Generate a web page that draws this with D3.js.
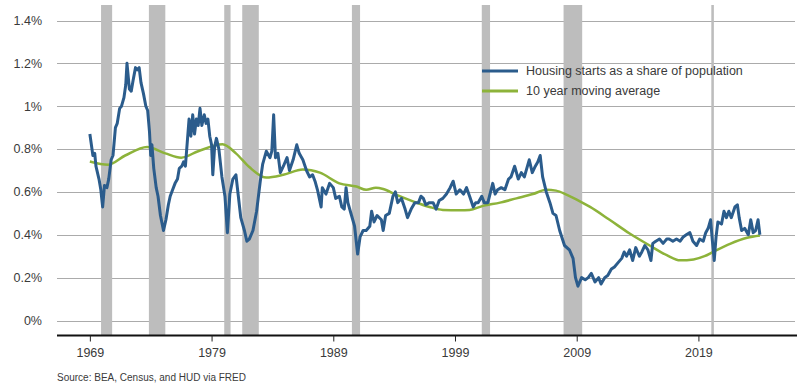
<!DOCTYPE html>
<html>
<head>
<meta charset="utf-8">
<script src="https://cdn.jsdelivr.net/npm/d3@7"></script>
<style>
  body { margin: 0; background: #fff; }
  text { font-family: Arial, "Liberation Sans", sans-serif; fill: #3a3a3a; }
</style>
</head>
<body>
<div id="chart"></div>
<script>
// Y axis ticks (percent of population)
const yTicks = [0, 0.2, 0.4, 0.6, 0.8, 1.0, 1.2, 1.4];
const xTickYears = [1969, 1979, 1989, 1999, 2009, 2019];

// NBER recessions as [start, end] in decimal years
const recessions = [
  [1969.92, 1970.83], [1973.85, 1975.2], [1980.04, 1980.56], [1981.52, 1982.88],
  [1990.53, 1991.2], [2001.2, 2001.88], [2007.92, 2009.45], [2020.06, 2020.27]
];

// Housing starts as a share of population, [year, %]
const startsShare = [
  [1969.00, 0.87], [1969.25, 0.77], [1969.40, 0.78], [1969.50, 0.72], [1969.75, 0.66],
  [1969.90, 0.61], [1970.05, 0.53], [1970.20, 0.63], [1970.40, 0.62], [1970.55, 0.66],
  [1970.75, 0.75], [1970.90, 0.77], [1971.10, 0.90], [1971.25, 0.92], [1971.45, 0.99],
  [1971.60, 1.00], [1971.80, 1.04], [1971.95, 1.10], [1972.05, 1.20], [1972.25, 1.08],
  [1972.40, 1.07], [1972.55, 1.12], [1972.75, 1.18], [1972.90, 1.17], [1973.05, 1.18],
  [1973.20, 1.11], [1973.40, 1.06], [1973.60, 1.00], [1973.75, 0.98], [1973.90, 0.88],
  [1974.00, 0.77], [1974.10, 0.82], [1974.25, 0.71], [1974.45, 0.62], [1974.60, 0.58],
  [1974.80, 0.49], [1975.05, 0.42], [1975.25, 0.47], [1975.45, 0.54], [1975.60, 0.58],
  [1975.80, 0.61], [1976.00, 0.64], [1976.20, 0.66], [1976.35, 0.71], [1976.55, 0.72],
  [1976.70, 0.74], [1976.85, 0.72], [1977.00, 0.83], [1977.15, 0.94], [1977.30, 0.86],
  [1977.45, 0.96], [1977.60, 0.87], [1977.75, 0.94], [1977.90, 0.91], [1978.05, 0.99],
  [1978.20, 0.91], [1978.40, 0.96], [1978.55, 0.92], [1978.70, 0.94], [1978.85, 0.86],
  [1979.00, 0.82], [1979.10, 0.68], [1979.25, 0.81], [1979.40, 0.85], [1979.60, 0.80],
  [1979.85, 0.67], [1980.10, 0.58], [1980.30, 0.41], [1980.50, 0.59], [1980.75, 0.66],
  [1981.00, 0.68], [1981.20, 0.58], [1981.40, 0.48], [1981.70, 0.42], [1981.90, 0.37],
  [1982.10, 0.38], [1982.40, 0.42], [1982.70, 0.51], [1983.00, 0.65], [1983.20, 0.73],
  [1983.50, 0.79], [1983.80, 0.76], [1983.95, 0.79], [1984.10, 0.96], [1984.25, 0.76],
  [1984.45, 0.78], [1984.65, 0.69], [1984.90, 0.72], [1985.20, 0.76], [1985.40, 0.70],
  [1985.70, 0.75], [1986.00, 0.82], [1986.20, 0.78], [1986.50, 0.75], [1986.80, 0.70],
  [1987.05, 0.67], [1987.30, 0.68], [1987.50, 0.65], [1987.70, 0.61], [1988.00, 0.53],
  [1988.10, 0.62], [1988.40, 0.59], [1988.70, 0.64], [1989.00, 0.62], [1989.20, 0.57],
  [1989.50, 0.58], [1989.70, 0.53], [1989.90, 0.52], [1990.05, 0.62], [1990.20, 0.55],
  [1990.50, 0.49], [1990.75, 0.44], [1991.00, 0.31], [1991.20, 0.39], [1991.45, 0.42],
  [1991.70, 0.42], [1992.00, 0.44], [1992.15, 0.51], [1992.35, 0.46], [1992.60, 0.49],
  [1992.95, 0.47], [1993.10, 0.42], [1993.30, 0.49], [1993.60, 0.50], [1993.90, 0.58],
  [1994.10, 0.60], [1994.30, 0.55], [1994.60, 0.57], [1994.90, 0.52], [1995.10, 0.48],
  [1995.40, 0.52], [1995.70, 0.55], [1996.00, 0.55], [1996.20, 0.58], [1996.40, 0.57],
  [1996.60, 0.54], [1996.90, 0.55], [1997.20, 0.55], [1997.45, 0.52], [1997.70, 0.56],
  [1998.00, 0.57], [1998.30, 0.59], [1998.60, 0.62], [1998.85, 0.65], [1999.10, 0.59],
  [1999.40, 0.61], [1999.70, 0.59], [1999.95, 0.62], [2000.20, 0.58], [2000.50, 0.53],
  [2000.70, 0.55], [2000.90, 0.55], [2001.20, 0.58], [2001.40, 0.55], [2001.70, 0.55],
  [2002.10, 0.64], [2002.30, 0.59], [2002.50, 0.61], [2002.80, 0.62], [2003.10, 0.61],
  [2003.40, 0.66], [2003.60, 0.67], [2003.90, 0.72], [2004.20, 0.66], [2004.45, 0.69],
  [2004.70, 0.67], [2005.10, 0.75], [2005.35, 0.69], [2005.60, 0.72], [2005.80, 0.74],
  [2006.00, 0.77], [2006.20, 0.67], [2006.50, 0.60], [2006.80, 0.55], [2007.05, 0.50],
  [2007.30, 0.49], [2007.60, 0.42], [2008.00, 0.35], [2008.40, 0.33], [2008.70, 0.29],
  [2008.90, 0.20], [2009.10, 0.16], [2009.40, 0.20], [2009.70, 0.19], [2009.95, 0.20],
  [2010.20, 0.22], [2010.50, 0.18], [2010.80, 0.20], [2011.00, 0.17], [2011.30, 0.20],
  [2011.55, 0.21], [2011.85, 0.24], [2012.10, 0.25], [2012.40, 0.27], [2012.70, 0.29],
  [2012.90, 0.32], [2013.10, 0.30], [2013.35, 0.33], [2013.60, 0.28], [2013.85, 0.34],
  [2014.15, 0.30], [2014.35, 0.32], [2014.60, 0.35], [2014.85, 0.33], [2015.10, 0.28],
  [2015.25, 0.36], [2015.50, 0.37], [2015.80, 0.38], [2016.10, 0.36], [2016.40, 0.38],
  [2016.60, 0.38], [2016.90, 0.37], [2017.20, 0.38], [2017.50, 0.37], [2017.75, 0.39],
  [2018.00, 0.40], [2018.30, 0.41], [2018.55, 0.37], [2018.85, 0.35], [2019.10, 0.38],
  [2019.40, 0.37], [2019.60, 0.41], [2019.80, 0.43], [2020.00, 0.47], [2020.15, 0.37],
  [2020.30, 0.28], [2020.45, 0.39], [2020.60, 0.46], [2020.90, 0.45], [2021.10, 0.51],
  [2021.30, 0.48], [2021.50, 0.51], [2021.70, 0.48], [2022.00, 0.53], [2022.20, 0.54],
  [2022.35, 0.48], [2022.55, 0.42], [2022.80, 0.43], [2023.10, 0.40], [2023.30, 0.47],
  [2023.50, 0.41], [2023.70, 0.42], [2023.90, 0.47], [2024.05, 0.40]
];

// 10 year moving average, [year, %]
const movingAvg = [
  [1969.0, 0.742], [1970.5, 0.727], [1971.9, 0.77], [1973.7, 0.81], [1975.2, 0.78],
  [1976.5, 0.76], [1977.9, 0.79], [1979.9, 0.822], [1981.0, 0.78], [1982.1, 0.716],
  [1983.5, 0.667], [1984.9, 0.68], [1986.5, 0.705], [1987.9, 0.69], [1989.5, 0.64],
  [1990.9, 0.625], [1991.7, 0.61], [1992.5, 0.62], [1993.1, 0.614], [1994.2, 0.586],
  [1995.6, 0.555], [1996.9, 0.53], [1998.0, 0.516], [1999.4, 0.514], [2000.2, 0.516],
  [2001.3, 0.535], [2002.7, 0.55], [2004.05, 0.57], [2005.4, 0.59], [2006.5, 0.61],
  [2007.3, 0.606], [2008.2, 0.586], [2009.3, 0.555], [2010.1, 0.53], [2011.7, 0.47],
  [2013.35, 0.406], [2015.0, 0.35], [2016.4, 0.305], [2017.5, 0.281], [2018.6, 0.285],
  [2019.5, 0.30], [2020.2, 0.32], [2021.6, 0.358], [2023.0, 0.386], [2024.05, 0.397]
];

const legendItems = [
  { label: 'Housing starts as a share of population', color: '#2b5c8c' },
  { label: '10 year moving average', color: '#8db33a' }
];

const width = 800;
const height = 389;

const svg = d3.select('#chart')
  .append('svg')
  .attr('width', width)
  .attr('height', height);

svg.append('rect')
  .attr('width', width)
  .attr('height', height)
  .attr('fill', '#fff');

// Scales
const x = d3.scaleLinear()
  .domain([1966.3, 2027.1])
  .range([57, 797]);

const y = d3.scaleLinear()
  .domain([0, 1.4])
  .range([320.5, 20.5]);

const axisY = 335.5;

// Gridlines
svg.append('g')
  .selectAll('line')
  .data(yTicks)
  .enter().append('line')
  .attr('x1', 57)
  .attr('x2', 795)
  .attr('y1', d => Math.round(y(d)) + 0.5)
  .attr('y2', d => Math.round(y(d)) + 0.5)
  .attr('stroke', '#ababab')
  .attr('stroke-width', 1);

// Recession bars
svg.append('g')
  .selectAll('rect')
  .data(recessions)
  .enter().append('rect')
  .attr('x', d => x(d[0]))
  .attr('width', d => Math.max(2.5, x(d[1]) - x(d[0])))
  .attr('y', 5)
  .attr('height', axisY - 5)
  .attr('fill', '#bdbdbd');

// Y labels
svg.append('g')
  .selectAll('text')
  .data(yTicks)
  .enter().append('text')
  .attr('x', 42)
  .attr('y', d => y(d))
  .attr('dy', '0.35em')
  .attr('text-anchor', 'end')
  .style('font-size', '12.5px')
  .text(d => d3.format('.1f')(d).replace(/\.0$/, '') + '%');

// X axis
const xAxis = svg.append('g')
  .attr('transform', `translate(0,${axisY})`)
  .call(d3.axisBottom(x)
    .tickValues(xTickYears)
    .tickFormat(d3.format('d'))
    .tickSizeOuter(0)
    .tickSize(6)
    .tickPadding(7));

xAxis.select('.domain')
  .attr('d', `M57,0H797`)
  .attr('stroke', '#111')
  .attr('stroke-width', 2);
xAxis.selectAll('.tick line').attr('stroke', '#222');
xAxis.selectAll('.tick text')
  .style('font-size', '12.5px')
  .style('font-family', 'Arial, "Liberation Sans", sans-serif')
  .attr('fill', '#3a3a3a');

// Lines
const line = d3.line()
  .x(d => x(d[0]))
  .y(d => y(d[1]));

svg.append('path')
  .datum(movingAvg)
  .attr('fill', 'none')
  .attr('stroke', legendItems[1].color)
  .attr('stroke-width', 2.5)
  .attr('d', line.curve(d3.curveMonotoneX));

svg.append('path')
  .datum(startsShare)
  .attr('fill', 'none')
  .attr('stroke', legendItems[0].color)
  .attr('stroke-width', 3)
  .attr('stroke-linejoin', 'round')
  .attr('d', d3.line().x(d => x(d[0])).y(d => y(d[1]))(startsShare));

// Legend
const legend = svg.append('g')
  .attr('transform', 'translate(482,71)');

const legendRow = legend.selectAll('g')
  .data(legendItems)
  .enter().append('g')
  .attr('transform', (d, i) => `translate(0,${i * 20})`);

legendRow.append('line')
  .attr('x1', 0)
  .attr('x2', 36)
  .attr('stroke', d => d.color)
  .attr('stroke-width', 3);

legendRow.append('text')
  .attr('x', 44)
  .attr('dy', '0.35em')
  .style('font-size', '12.5px')
  .text(d => d.label);

// Source note
svg.append('text')
  .attr('x', 57)
  .attr('y', 381)
  .style('font-size', '10px')
  .text('Source: BEA, Census, and HUD via FRED');
</script>
</body>
</html>
